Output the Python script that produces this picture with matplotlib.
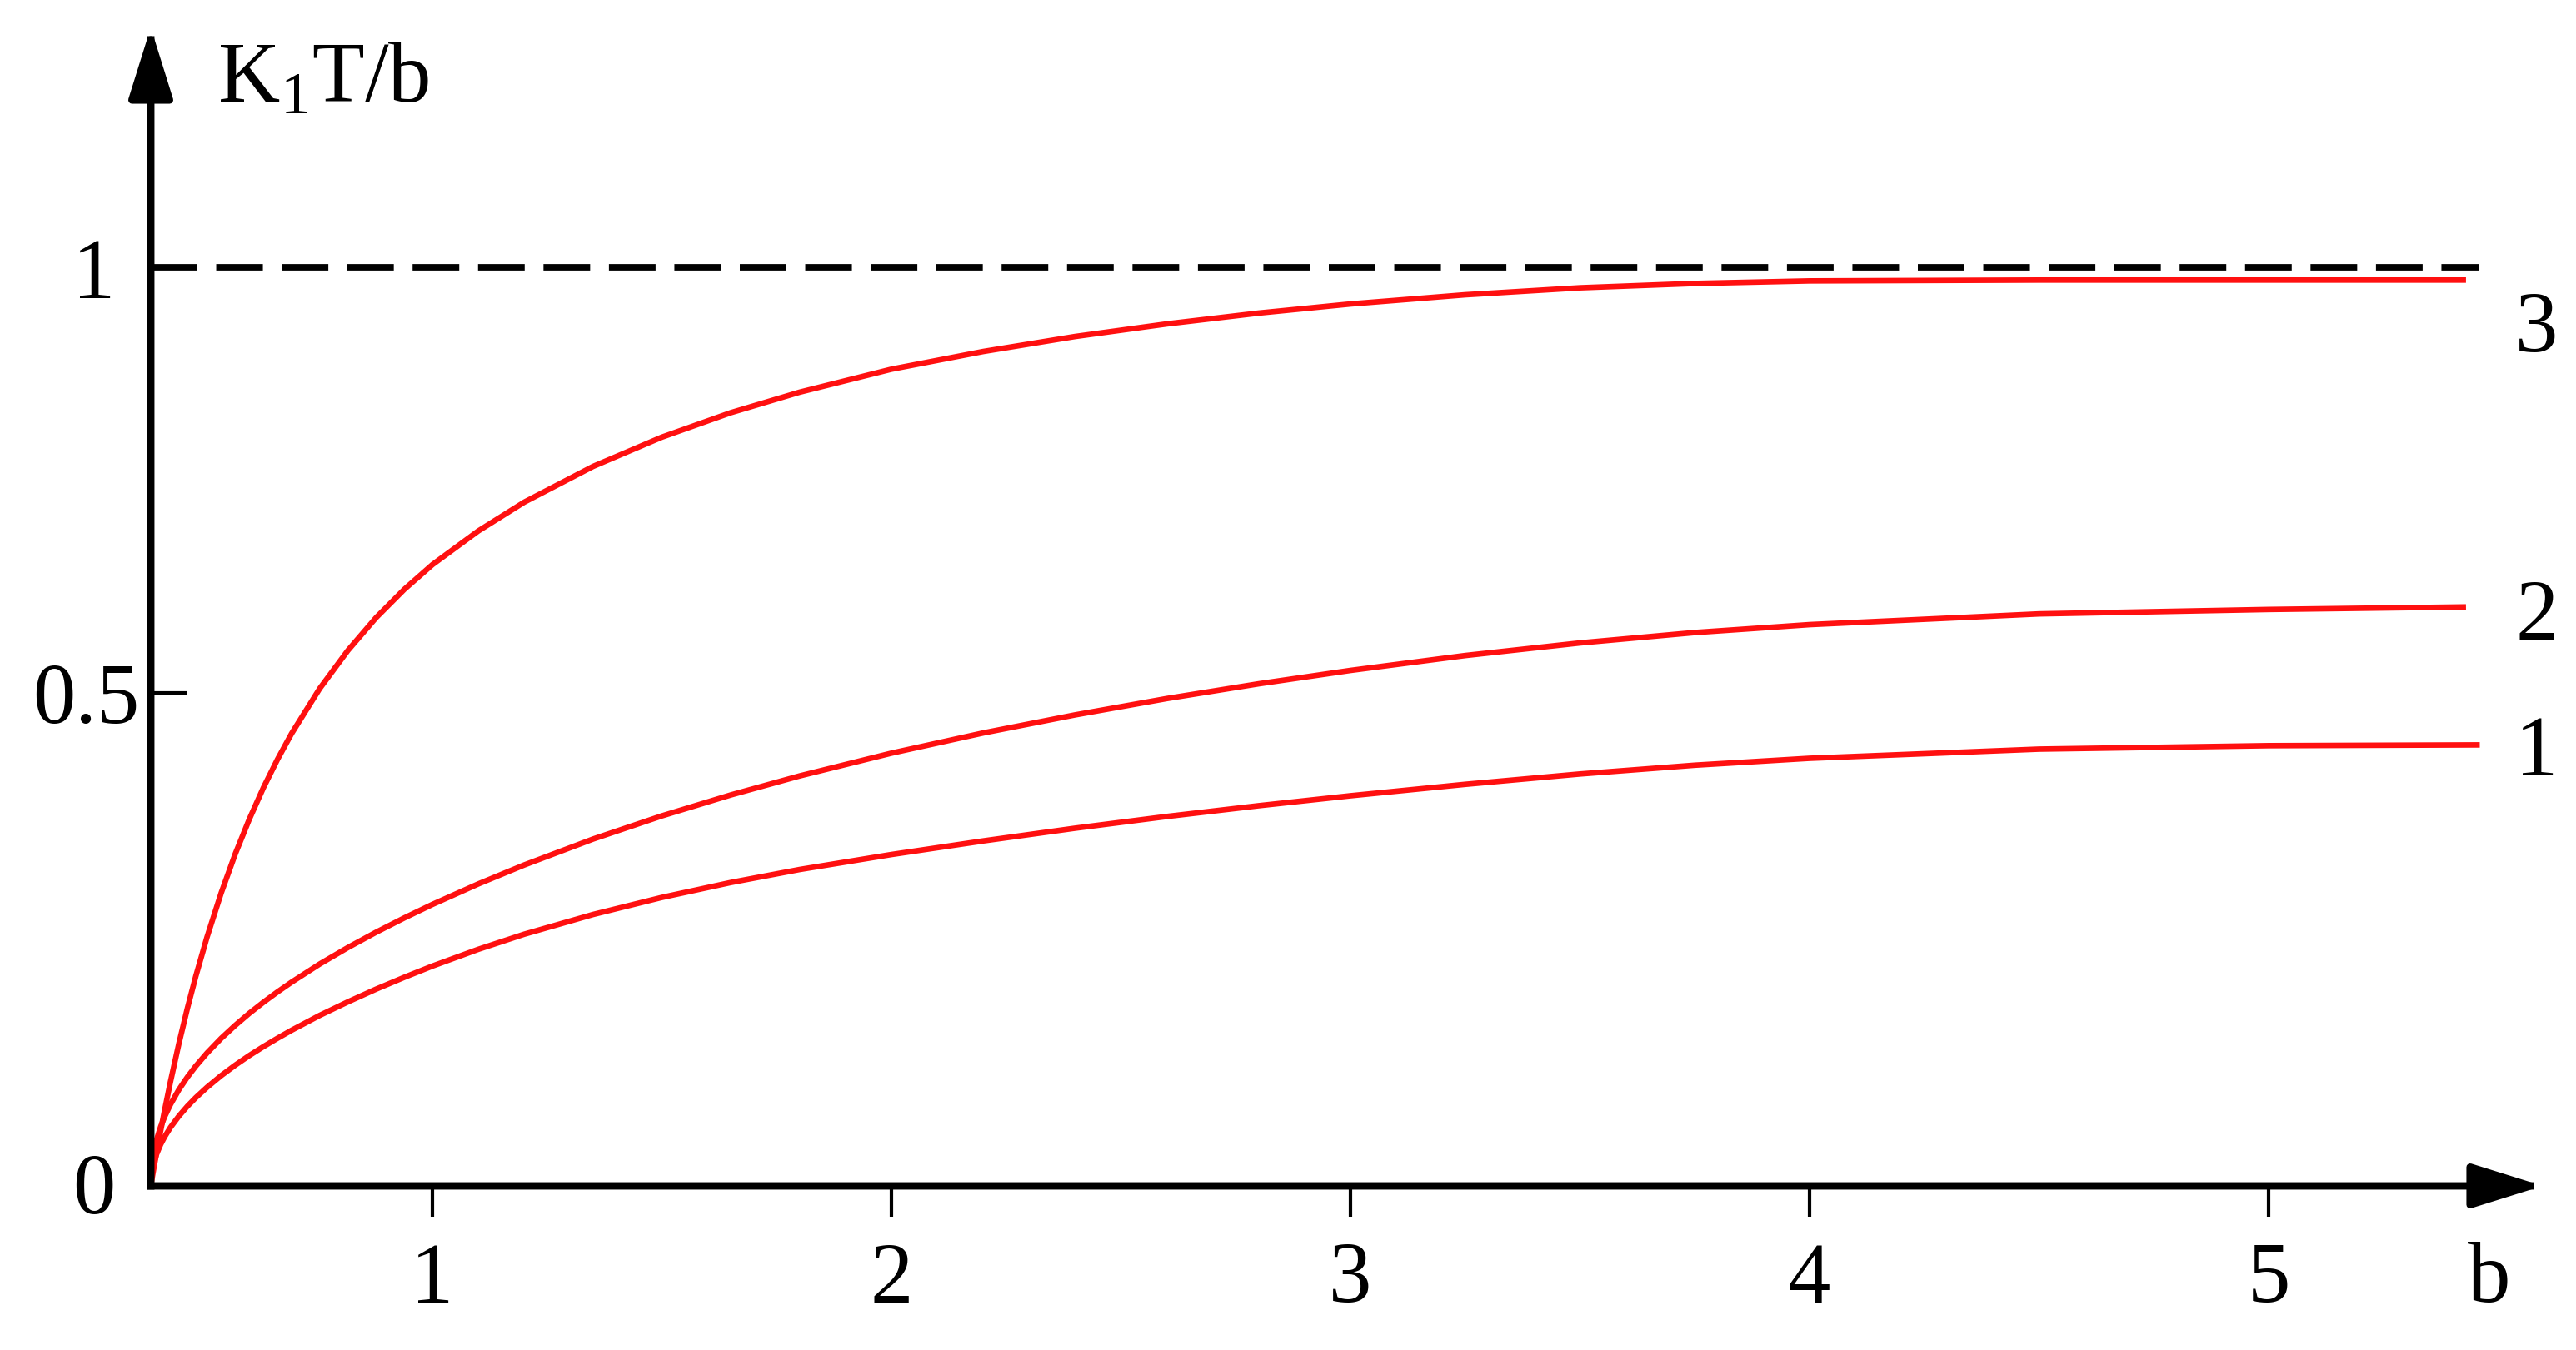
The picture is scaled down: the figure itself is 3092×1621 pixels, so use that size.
import numpy as np
import matplotlib
matplotlib.use("Agg")
import matplotlib.pyplot as plt
from matplotlib.scale import FuncScale

plt.rcParams["font.family"] = ["Liberation Serif", "DejaVu Serif"]
plt.rcParams["mathtext.fontset"] = "custom"
plt.rcParams["mathtext.rm"] = "Liberation Serif"

# values (b, K1T/b)
b_grid = [0, 0.005, 0.01, 0.02, 0.035, 0.05, 0.07, 0.1, 0.13, 0.16, 0.2, 0.25,
          0.3, 0.35, 0.4, 0.45, 0.5, 0.6, 0.7, 0.8, 0.9, 1.0, 1.1, 1.2,
          1.35, 1.5, 1.65, 1.8, 2.0, 2.2, 2.4, 2.6, 2.8, 3.0, 3.25, 3.5,
          3.75, 4.0, 4.5, 5.0]

v_curve3 = [0, 0.0084, 0.0166, 0.0326, 0.0558, 0.0778, 0.1057, 0.1445, 0.1801, 0.2128,
            0.2526, 0.2971, 0.3367, 0.3720, 0.4039, 0.4326, 0.4588, 0.5052, 0.5499, 0.5884,
            0.6216, 0.6507, 0.6903, 0.7241, 0.7661, 0.8005, 0.8292, 0.8533, 0.8803, 0.9011,
            0.9187, 0.9335, 0.9462, 0.9569, 0.9677, 0.9759, 0.9810, 0.9840, 0.9850, 0.9850]
v_curve2 = [0, 0.0242, 0.0334, 0.0462, 0.0599, 0.0707, 0.0827, 0.0977, 0.1104, 0.1216,
            0.1349, 0.1497, 0.1629, 0.1751, 0.1863, 0.1968, 0.2067, 0.2251, 0.2418, 0.2573,
            0.2718, 0.2855, 0.3063, 0.3255, 0.3518, 0.3753, 0.3965, 0.4158, 0.4389, 0.4594,
            0.4777, 0.4943, 0.5107, 0.5264, 0.5439, 0.5587, 0.5709, 0.5802, 0.5928, 0.5980]
v_curve1 = [0, 0.0160, 0.0226, 0.0318, 0.0421, 0.0502, 0.0594, 0.0709, 0.0808, 0.0896,
            0.1001, 0.1119, 0.1225, 0.1323, 0.1413, 0.1498, 0.1579, 0.1730, 0.1867, 0.1996,
            0.2116, 0.2230, 0.2400, 0.2553, 0.2753, 0.2926, 0.3077, 0.3209, 0.3361, 0.3499,
            0.3628, 0.3747, 0.3856, 0.3957, 0.4073, 0.4178, 0.4267, 0.4337, 0.4430, 0.4465]

# where each curve stops on the right
end_b = [5.43, 5.43, 5.46]
end_v = [0.985, 0.601, 0.4473]

asymptote = 1.0
asymptote_end = 5.46
x_ticks = [1, 2, 3, 4, 5]
curve_names = ["3", "2", "1"]

W, H = 3092, 1621

# the drawing's axes are not evenly spaced, so use piecewise linear scales
X_KNOTS_B = [-2, 0, 1, 10]
X_KNOTS_PX = [181 - 676, 181, 519, 519 + 9 * 551]
Y_KNOTS_V = [-2, 0, 0.5, 1, 5]
Y_KNOTS_PX = [197 - 2368, 197, 789, 1300, 1300 + 8 * 1022]


def fwd_x(b):
    return np.interp(b, X_KNOTS_B, X_KNOTS_PX)


def inv_x(p):
    return np.interp(p, X_KNOTS_PX, X_KNOTS_B)


def fwd_y(v):
    return np.interp(v, Y_KNOTS_V, Y_KNOTS_PX)


def inv_y(p):
    return np.interp(p, Y_KNOTS_PX, Y_KNOTS_V)


fig = plt.figure(figsize=(W / 200, H / 200), dpi=200)
ax = fig.add_axes([0, 0, 1, 1])
ax.set_xscale(FuncScale(ax.xaxis, (fwd_x, inv_x)))
ax.set_yscale(FuncScale(ax.yaxis, (fwd_y, inv_y)))
ax.set_xlim(inv_x(0), inv_x(W))
ax.set_ylim(inv_y(0), inv_y(H))

for s in ax.spines.values():
    s.set_visible(False)
ax.spines["bottom"].set_position(("data", 0))
ax.spines["left"].set_position(("data", 0))

# axes with arrow heads
x_tip = inv_x(3052)
y_tip = inv_y(H - 33)
arrow = dict(arrowstyle="-|>,head_length=0.4,head_width=0.125", lw=3.2, color="black",
             shrinkA=0, shrinkB=0, mutation_scale=65, capstyle="projecting")
ax.annotate("", xy=(x_tip, 0), xytext=(0, 0), arrowprops=arrow)
ax.annotate("", xy=(0, y_tip), xytext=(0, 0), arrowprops=arrow)

# dashed asymptote
ax.plot([0, asymptote_end], [asymptote, asymptote], color="black", lw=2.8,
        dashes=(7.2, 2.9), dash_capstyle="butt")

red = "#ff1010"
for v, eb, ev in zip([v_curve3, v_curve2, v_curve1], end_b, end_v):
    ax.plot(b_grid + [eb], v + [ev], color=red, lw=2.4,
            solid_capstyle="butt", solid_joinstyle="round")

fs = 37
ax.set_xticks(x_ticks)
ax.set_xticklabels([str(t) for t in x_ticks])
ax.tick_params(axis="x", direction="out", length=13.3, width=1.5, pad=11,
               labelsize=fs, colors="black")
ax.set_yticks([0.5])
ax.set_yticklabels(["0.5"])
ax.tick_params(axis="y", direction="in", length=16, width=1.5, pad=5,
               labelsize=fs, colors="black")
ax.xaxis.set_minor_locator(plt.NullLocator())
ax.yaxis.set_minor_locator(plt.NullLocator())


def px_text(x, y, s, ha="center"):
    ax.text(x / W, 1 - y / H, s, transform=ax.transAxes, fontsize=fs,
            ha=ha, va="baseline", color="black")


px_text(113, 1457, "0")
px_text(113, 358, "1")
px_text(2988, 1563, "b")
px_text(261, 123, r"$\mathrm{K_1T/b}$", ha="left")
for name, y in zip(curve_names, [422, 768, 931]):
    px_text(3045, y, name)

fig.savefig("out.png", dpi=200, facecolor="white")
